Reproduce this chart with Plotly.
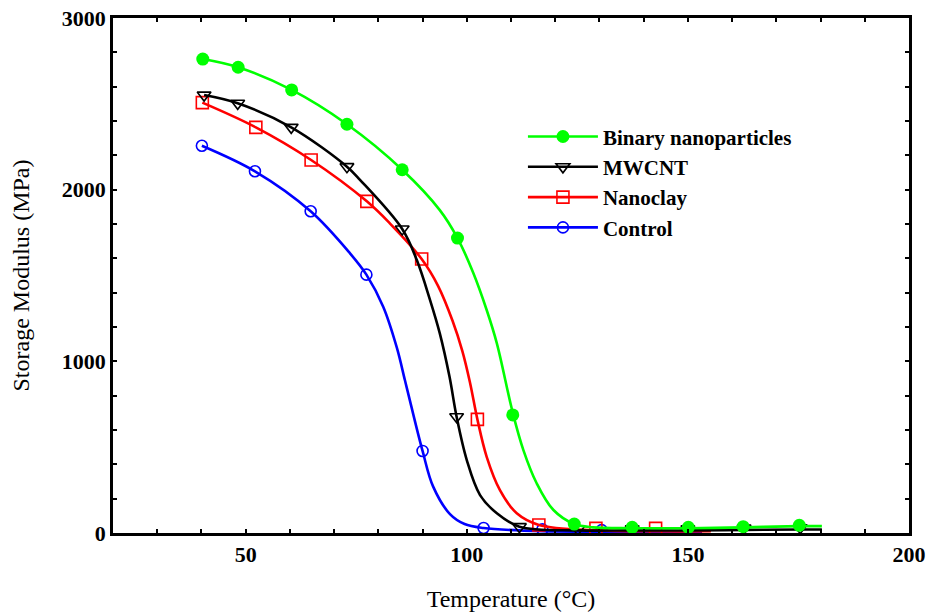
import plotly.graph_objects as go

# ---- data ----
binary_mark_t = [40.3, 48.3, 60.4, 72.9, 85.4, 97.9, 110.4, 124.3, 137.4, 150.1, 162.5, 175.2]
binary_mark_e = [2761, 2713, 2581, 2381, 2116, 1718, 688, 52, 33, 33, 37, 45]
binary_line_t = [40.3, 48.3, 60.4, 72.9, 85.4, 93.9, 97.9, 101.5, 104.5, 106.8, 110.4, 112.8, 115.8, 119.6, 124.3, 128.5, 137.4, 150.1, 162.5, 175.2, 180.3]
binary_line_e = [2761, 2713, 2581, 2381, 2116, 1881, 1718, 1513, 1299, 1105, 700, 483, 290, 134, 52, 33, 28, 28, 33, 40, 40]

mwcnt_mark_t = [40.6, 48.2, 60.3, 72.9, 85.4, 97.7, 111.9, 125.1, 137.4, 150.0, 162.7, 175.4]
mwcnt_mark_e = [2551, 2503, 2363, 2134, 1771, 677, 37, 22, 25, 25, 29, 31]
mwcnt_line_t = [40.6, 48.2, 60.3, 72.9, 75.9, 85.4, 88.7, 91.7, 93.9, 96.1, 97.7, 100.0, 103.0, 106.8, 111.9, 125.1, 137.4, 150.0, 162.7, 175.4, 180.3]
mwcnt_line_e = [2551, 2503, 2363, 2134, 2056, 1771, 1590, 1357, 1163, 910, 677, 425, 221, 115, 37, 15, 15, 15, 18, 20, 20]

nanoclay_mark_t = [40.2, 52.3, 64.8, 77.4, 89.8, 102.4, 116.3, 129.2, 142.7]
nanoclay_mark_e = [2507, 2363, 2173, 1932, 1596, 662, 47, 27, 27]
nanoclay_line_t = [40.2, 52.3, 64.8, 77.4, 82.6, 89.8, 93.5, 96.8, 99.0, 100.7, 102.4, 104.5, 107.5, 111.3, 116.3, 129.2, 142.7, 155.2]
nanoclay_line_e = [2507, 2363, 2173, 1932, 1804, 1596, 1440, 1235, 1060, 880, 662, 444, 250, 115, 47, 15, 10, 10]

control_mark_t = [40.1, 52.1, 64.7, 77.3, 90.0, 103.8, 117.1, 130.5]
control_mark_e = [2256, 2107, 1874, 1505, 478, 29, 21, 17]
control_line_t = [40.1, 52.1, 64.7, 73.6, 77.3, 81.1, 84.2, 86.0, 87.2, 90.0, 92.4, 96.2, 99.5, 103.8, 117.1, 130.5, 153.2]
control_line_e = [2256, 2107, 1874, 1629, 1505, 1318, 1078, 891, 765, 478, 270, 110, 52, 29, 10, 8, 8]

x_ticks = [50, 100, 150, 200]
y_ticks = [0, 1000, 2000, 3000]

series = [
    ("Binary nanoparticles", "#00ff00", dict(symbol="circle", size=13, color="#00ff00"),
     binary_line_t, binary_line_e, binary_mark_t, binary_mark_e),
    ("MWCNT", "#000000", dict(symbol="triangle-down-open", size=12, color="#000000", line=dict(width=1.6)),
     mwcnt_line_t, mwcnt_line_e, mwcnt_mark_t, mwcnt_mark_e),
    ("Nanoclay", "#ff0000", dict(symbol="square-open", size=12, color="#ff0000", line=dict(width=1.6)),
     nanoclay_line_t, nanoclay_line_e, nanoclay_mark_t, nanoclay_mark_e),
    ("Control", "#0000ff", dict(symbol="circle-open", size=11, color="#0000ff", line=dict(width=1.6)),
     control_line_t, control_line_e, control_mark_t, control_mark_e),
]

fig = go.Figure()
# draw in reverse so the first series sits on top
for name, color, marker, lt, le, mt, me in reversed(series):
    fig.add_trace(go.Scatter(x=lt, y=le, mode="lines", line=dict(color=color, width=2.6, shape="spline", smoothing=1.0),
                             showlegend=False, hoverinfo="skip", legendgroup=name))
    fig.add_trace(go.Scatter(x=mt, y=me, mode="markers", marker=marker, showlegend=False, legendgroup=name, name=name))
# legend entries (in reference order)
for name, color, marker, lt, le, mt, me in series:
    fig.add_trace(go.Scatter(x=[None], y=[None], mode="lines+markers", name=name, legendgroup=name,
                             line=dict(color=color, width=2.6), marker=marker))

serif = "Liberation Serif, Times New Roman, serif"
axis_common = dict(
    showline=True, linecolor="black", linewidth=2.6, mirror="allticks",
    ticks="inside", ticklen=4, tickwidth=1.5, tickcolor="black",
    showgrid=False, zeroline=False, automargin=False,
    tickfont=dict(family=serif, size=22, color="black", weight="bold"),
)
fig.update_xaxes(range=[20, 200], tickvals=x_ticks, ticktext=[str(v) for v in x_ticks],
                 minor=dict(tickvals=list(range(20, 201, 10)), ticks="inside", ticklen=4, tickwidth=1.5, tickcolor="black"),
                 title=dict(text="Temperature (°C)", font=dict(family=serif, size=24, color="black"), standoff=24),
                 **axis_common)
fig.update_yaxes(range=[0, 3000], tickvals=y_ticks, ticktext=[str(v) for v in y_ticks],
                 minor=dict(tickvals=list(range(0, 3001, 200)), ticks="inside", ticklen=4, tickwidth=1.5, tickcolor="black"),
                 title=dict(text="Storage Modulus (MPa)", font=dict(family=serif, size=24, color="black"), standoff=26),
                 **axis_common)

fig.update_layout(
    width=928, height=613,
    margin=dict(l=113, r=19, t=18, b=80),
    paper_bgcolor="white", plot_bgcolor="white",
    legend=dict(x=0.515, y=0.809, xanchor="left", yanchor="top", bgcolor="rgba(0,0,0,0)",
                font=dict(family=serif, size=21, color="black", weight="bold"),
                itemwidth=70, tracegroupgap=0),
)

fig.write_html("out.html")
